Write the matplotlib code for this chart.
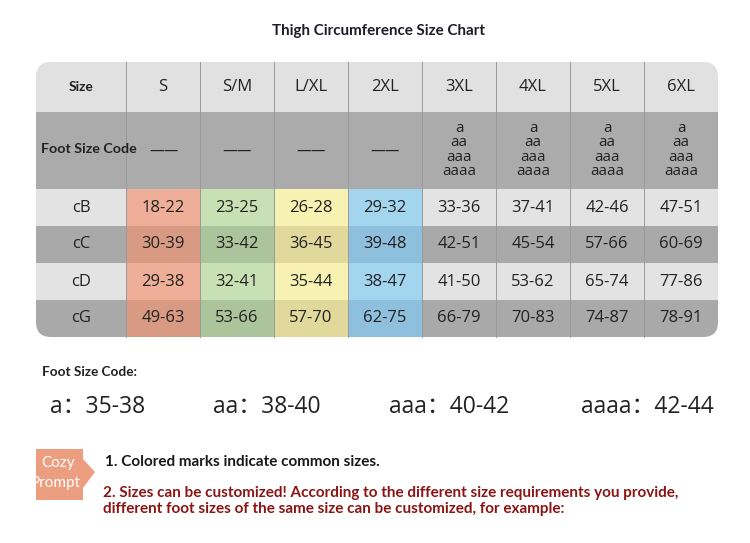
import matplotlib.pyplot as plt
from matplotlib.patches import Rectangle, FancyBboxPatch, Polygon

# ---- data ----
sizes = ['S', 'S/M', 'L/XL', '2XL', '3XL', '4XL', '5XL', '6XL']
foot_codes = ['——', '——', '——', '——', 'a\naa\naaa\naaaa', 'a\naa\naaa\naaaa',
              'a\naa\naaa\naaaa', 'a\naa\naaa\naaaa']
row_labels = ['cB', 'cC', 'cD', 'cG']
ranges = [
    ['18-22', '23-25', '26-28', '29-32', '33-36', '37-41', '42-46', '47-51'],
    ['30-39', '33-42', '36-45', '39-48', '42-51', '45-54', '57-66', '60-69'],
    ['29-38', '32-41', '35-44', '38-47', '41-50', '53-62', '65-74', '77-86'],
    ['49-63', '53-66', '57-70', '62-75', '66-79', '70-83', '74-87', '78-91'],
]
legend_codes = ['a', 'aa', 'aaa', 'aaaa']
legend_ranges = ['35-38', '38-40', '40-42', '42-44']
notes = ['1. Colored marks indicate common sizes.',
         '2. Sizes can be customized! According to the different size requirements you provide,\n'
         'different foot sizes of the same size can be customized, for example:']

# common-size colours (light row, dark row)
marks = [('#efae97', '#d99a84'), ('#c7e1b4', '#abc49b'),
         ('#f7f1b2', '#e0d99b'), ('#a3d5ef', '#8ebfdc')]

fig = plt.figure(figsize=(7.5, 5.43), dpi=100)
ax = fig.add_axes([0, 0, 1, 1])
ax.set_xlim(0, 750); ax.set_ylim(543, 0); ax.axis('off')

txt = '#222222'
ax.text(378, 31, 'Thigh Circumference Size Chart', ha='center', va='center',
        fontsize=10.9, fontweight='bold', family='Lato', color='#1c1c28')

# table geometry
x0, lab_w, col_w = 36, 90, 74
row_tops = [62, 112, 189, 226, 263, 300, 337]
clip = FancyBboxPatch((x0, 62), lab_w + col_w*len(sizes), 275,
                      boxstyle='round,pad=0,rounding_size=15', transform=ax.transData,
                      fc='none', ec='none')
ax.add_patch(clip)

def cell(x, y, w, h, c):
    r = Rectangle((x, y), w, h, fc=c, ec='none')
    ax.add_patch(r); r.set_clip_path(clip)

# header & foot size rows
cell(x0, row_tops[0], lab_w + col_w*8, 50, '#e1e1e1')
cell(x0, row_tops[1], lab_w + col_w*8, 77, '#ababab')
for i, rl in enumerate(row_labels):
    y = row_tops[i+2]; h = row_tops[i+3] - y
    base = '#e3e3e3' if i % 2 == 0 else '#a9a9a9'
    cell(x0, y, lab_w + col_w*8, h, base)
    for j in range(4):
        cell(x0 + lab_w + j*col_w, y, col_w, h, marks[j][i % 2])

# column separators
for j in range(8):
    xs = x0 + lab_w + j*col_w
    ax.plot([xs, xs], [62, 337], color='#9a9a9a', lw=0.7)

ax.text(x0 + lab_w/2, 87, 'Size', ha='center', va='center', fontsize=10,
        fontweight='bold', family='Lato', color=txt)
ax.text(89, 149, 'Foot Size Code', ha='center', va='center', fontsize=10.3,
        fontweight='bold', family='Lato', color=txt)
ax.text(164, 150, '——', ha='center', va='center', fontsize=10.5, color=txt)
for j, s in enumerate(sizes):
    cx = x0 + lab_w + j*col_w + col_w/2
    ax.text(cx, 87, s, ha='center', va='center', fontsize=12, family='Open Sans', color=txt)
    if foot_codes[j].startswith('—'):
        if j > 0:
            ax.text(cx, 150, foot_codes[j], ha='center', va='center', fontsize=10.5, color=txt)
    else:
        ax.text(cx, 150, foot_codes[j], ha='center', va='center', fontsize=11,
                family='Open Sans', color=txt, linespacing=0.95)
    for i in range(4):
        cy = (row_tops[i+2] + row_tops[i+3]) / 2
        ax.text(cx, cy, ranges[i][j], ha='center', va='center', fontsize=12,
                family='Open Sans', color=txt)
for i, rl in enumerate(row_labels):
    cy = (row_tops[i+2] + row_tops[i+3]) / 2
    ax.text(x0 + lab_w/2, cy, rl, ha='center', va='center', fontsize=12,
            family='Open Sans', color=txt)

# foot size code legend
ax.text(42, 372, 'Foot Size Code:', ha='left', va='center', fontsize=9.8,
        fontweight='bold', family='Lato', color=txt)
for xl, c, r in zip([50, 213, 389, 581], legend_codes, legend_ranges):
    ax.text(xl, 407, c + '：' + r, ha='left', va='center', fontsize=16.5,
            family=['Open Sans', 'Noto Sans CJK SC'], color=txt)

# cozy prompt tag
tag = Polygon([(36, 449), (83, 449), (83, 459), (95, 472), (83, 488), (83, 500), (36, 500)],
              closed=True, fc='#ee9e80', ec='none')
ax.add_patch(tag)
ax.text(58, 463, 'Cozy', ha='center', va='center', fontsize=11, family='Lato', color='white')
t = ax.text(56, 483, 'Prompt', ha='center', va='center', fontsize=11, family='Lato', color='white')
t.set_clip_path(tag)

ax.text(105, 462, notes[0], ha='left', va='center', fontsize=11, fontweight='bold',
        family='Lato', color='#1a1a1a')
ax.text(103, 501, notes[1], ha='left', va='center', fontsize=11, fontweight='bold',
        family='Lato', color='#8b1515', linespacing=1.15)

fig.savefig('out.png', dpi=100)
